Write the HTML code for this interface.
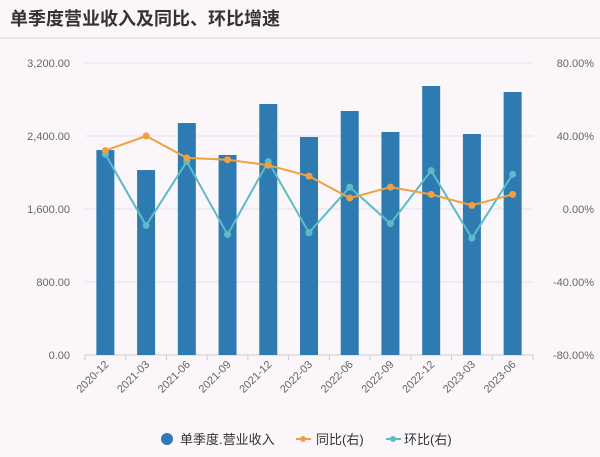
<!DOCTYPE html>
<html><head><meta charset="utf-8"><style>
body{margin:0;background:#fbf6fa;font-family:"Liberation Sans","Noto Sans CJK SC",sans-serif;}
svg{display:block}
</style></head><body>
<svg width="600" height="457" id="c">
<rect width="600" height="457" fill="#fbf6fa"/>
<text x="10" y="25" font-size="18" font-weight="bold" fill="#333" font-family="Liberation Sans, Noto Sans CJK SC, sans-serif">单季度营业收入及同比、环比增速</text>
<line x1="0" y1="38" x2="600" y2="38" stroke="#ddd" stroke-width="1.5"/>
<g id="g"></g>
<g font-size="13" fill="#333" font-family="Liberation Sans, Noto Sans CJK SC, sans-serif">
<circle cx="167" cy="439" r="6" fill="#2e7bb2"/>
<text x="180" y="444">单季度.营业收入</text>
<line x1="296" y1="439" x2="311" y2="439" stroke="#f0a040" stroke-width="2"/>
<circle cx="303" cy="439" r="3" fill="#f0a040"/>
<text x="316" y="444">同比(右)</text>
<line x1="386" y1="439" x2="401" y2="439" stroke="#5bbcc8" stroke-width="2"/>
<circle cx="393" cy="439" r="3" fill="#5bbcc8"/>
<text x="404" y="444">环比(右)</text>
</g>
</svg>
<script>
const categories=["2020-12","2021-03","2021-06","2021-09","2021-12","2022-03","2022-06","2022-09","2022-12","2023-03","2023-06"];
const revenue=[2246,2027,2542,2192,2751,2389,2674,2444,2948,2422,2882];
const yoy=[32,40,28,27,24,18,6,12,8,2,8];
const qoq=[30,-9,26,-14,26,-13,12,-8,21,-16,19];
const leftTicks=[0,800,1600,2400,3200];
const leftTickLabels=["0.00","800.00","1,600.00","2,400.00","3,200.00"];
const rightTicks=[-80,-40,0,40,80];
const rightTickLabels=["-80.00%","-40.00%","0.00%","40.00%","80.00%"];

const NS="http://www.w3.org/2000/svg";
const g=document.getElementById('g');
const X0=85,X1=533,Y0=355,Y1=63;
const bw=(X1-X0)/categories.length;
const xc=i=>X0+bw*(i+0.5);
const yL=v=>Y0-(v/3200)*(Y0-Y1);
const yR=v=>Y0-((v+80)/160)*(Y0-Y1);
function mk(t,a){const e=document.createElementNS(NS,t);for(const k in a)e.setAttribute(k,a[k]);g.appendChild(e);return e;}
leftTicks.forEach((v,i)=>{
 const l=mk('line',{x1:X0,x2:X1,y1:yL(v),y2:yL(v),stroke:'#e6e0e6'});
 
 
 const t=mk('text',{x:70,y:yL(v)+4,'text-anchor':'end','font-size':11,fill:'#666'});
 t.textContent=leftTickLabels[i];
 
 
});
rightTicks.forEach((v,i)=>{
 const t=mk('text',{x:594,y:yR(v)+4,'text-anchor':'end','font-size':11,fill:'#666'});
 t.textContent=rightTickLabels[i];
 
 
});
const ax=mk('line',{x1:X0,x2:X1,y1:Y0,y2:Y0,stroke:'#ccc'});


for(let i=0;i<=categories.length;i++){
 const tk=mk('line',{x1:X0+bw*i,x2:X0+bw*i,y1:Y0,y2:Y0+5,stroke:'#ccc'});
 
 
}
revenue.forEach((v,i)=>{
 const r=mk('rect',{x:xc(i)-9,y:yL(v),width:18,height:Y0-yL(v),fill:'#2e7bb2'});
 
 
 const t=mk('text',{transform:`translate(${xc(i)+4},${Y0+10}) rotate(-45)`,'text-anchor':'end','font-size':11,fill:'#666'});
 t.textContent=categories[i];
 
 
});
function series(vals,col,name){
 const p=mk('polyline',{points:vals.map((v,i)=>xc(i)+','+yR(v)).join(' '),fill:'none',stroke:col,'stroke-width':2});
 
 
 vals.forEach((v,i)=>{
  const c=mk('circle',{cx:xc(i),cy:yR(v),r:3.5,fill:col});
  
  
 });
}
series(qoq,'#5bbcc8','qoq');
series(yoy,'#f0a040','yoy');
</script>
</body></html>
